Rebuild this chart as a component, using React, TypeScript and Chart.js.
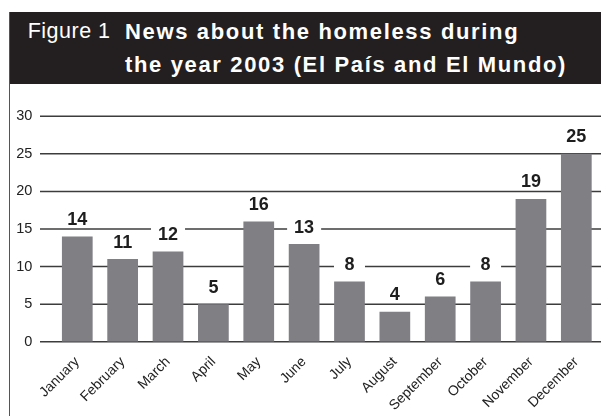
import React, { useEffect, useRef } from "react";
import { Chart, registerables } from "chart.js";

Chart.register(...registerables);

const months = [
  "January", "February", "March", "April", "May", "June",
  "July", "August", "September", "October", "November", "December",
];
const newsCounts = [14, 11, 12, 5, 16, 13, 8, 4, 6, 8, 19, 25];
const yTickValues = [0, 5, 10, 15, 20, 25, 30];
const figureLabel = "Figure 1";
const titleLine1 = "News about the homeless during";
const titleLine2 = "the year 2003 (El País and El Mundo)";

const FONT = "'Liberation Sans', Arial, Helvetica, sans-serif";

const gridPlugin = {
  id: "customGrid",
  beforeDatasetsDraw(chart: any) {
    const { ctx, scales, width } = chart;
    const y = scales.y;
    ctx.save();
    ctx.strokeStyle = "#3c3c3c";
    ctx.lineWidth = 1.5;
    for (const v of yTickValues) {
      const py = y.getPixelForValue(v);
      ctx.beginPath();
      ctx.moveTo(40, py);
      ctx.lineTo(width, py);
      ctx.stroke();
    }
    ctx.restore();
  },
};

const labelPlugin = {
  id: "valueLabels",
  afterDatasetsDraw(chart: any) {
    const { ctx } = chart;
    const meta = chart.getDatasetMeta(0);
    const data = chart.data.datasets[0].data;
    ctx.save();
    ctx.font = `bold 18px ${FONT}`;
    ctx.textAlign = "center";
    ctx.textBaseline = "alphabetic";
    meta.data.forEach((el: any, i: number) => {
      const text = String(data[i]);
      const w = ctx.measureText(text).width;
      const boxW = Math.max(w + 14, 31);
      const base = el.y - 11.5;
      ctx.fillStyle = "#ffffff";
      ctx.fillRect(el.x - boxW / 2, base - 15, boxW, 16.5);
      ctx.fillStyle = "#1e1e1e";
      ctx.fillText(text, el.x, base);
    });
    ctx.restore();
  },
};

export default function App() {
  const canvasRef = useRef<HTMLCanvasElement | null>(null);

  useEffect(() => {
    document.body.style.margin = "0";
    document.body.style.overflow = "hidden";
    const canvas = canvasRef.current;
    if (!canvas) return;
    const chart = new Chart(canvas, {
      type: "bar",
      data: {
        labels: months,
        datasets: [
          {
            data: newsCounts,
            backgroundColor: "#7f7f84",
            barPercentage: 0.677,
            categoryPercentage: 1,
          },
        ],
      },
      options: {
        responsive: false,
        animation: false,
        layout: { padding: { top: 32.3, right: 2, left: 0, bottom: 0 } },
        plugins: {
          legend: { display: false },
          tooltip: { enabled: false },
        },
        scales: {
          x: {
            grid: { display: false, drawTicks: false },
            border: { display: false },
            ticks: {
              autoSkip: false,
              minRotation: 45,
              maxRotation: 45,
              padding: 12,
              color: "#222222",
              font: { family: FONT, size: 14 },
            },
            afterFit(scale: any) {
              scale.height = 74.3;
            },
          },
          y: {
            min: 0,
            max: 30,
            grid: { display: false, drawTicks: false },
            border: { display: false },
            ticks: {
              stepSize: 5,
              padding: 22.3,
              color: "#222222",
              font: { family: FONT, size: 14.5 },
            },
            afterFit(scale: any) {
              scale.width = 54.6;
            },
          },
        },
      },
      plugins: [gridPlugin, labelPlugin],
    });
    return () => chart.destroy();
  }, []);

  return (
    <div style={{ position: "relative", width: 601, height: 416, overflow: "hidden", background: "#fff" }}>
      <div
        style={{
          position: "absolute",
          left: 9,
          top: 12,
          width: 592,
          height: 71.5,
          background: "#231f20",
        }}
      />
      <div
        style={{
          position: "absolute",
          left: 27.7,
          top: 21,
          fontFamily: FONT,
          fontSize: 21.5,
          lineHeight: "21px",
          letterSpacing: 0.5,
          color: "#ffffff",
          whiteSpace: "nowrap",
        }}
      >
        {figureLabel}
      </div>
      <div
        style={{
          position: "absolute",
          left: 125,
          top: 20.7,
          fontFamily: FONT,
          fontSize: 22,
          fontWeight: "bold",
          lineHeight: "22px",
          letterSpacing: 1.65,
          color: "#ffffff",
          whiteSpace: "nowrap",
        }}
      >
        {titleLine1}
      </div>
      <div
        style={{
          position: "absolute",
          left: 125,
          top: 54.1,
          fontFamily: FONT,
          fontSize: 22,
          fontWeight: "bold",
          lineHeight: "22px",
          letterSpacing: 1.65,
          color: "#ffffff",
          whiteSpace: "nowrap",
        }}
      >
        {titleLine2}
      </div>
      <canvas
        ref={canvasRef}
        width={601}
        height={332}
        style={{ position: "absolute", left: 0, top: 84, width: 601, height: 332 }}
      />
      <div
        style={{
          position: "absolute",
          left: 8.5,
          top: 12,
          width: 1.5,
          height: 404,
          background: "#555555",
        }}
      />
    </div>
  );
}
